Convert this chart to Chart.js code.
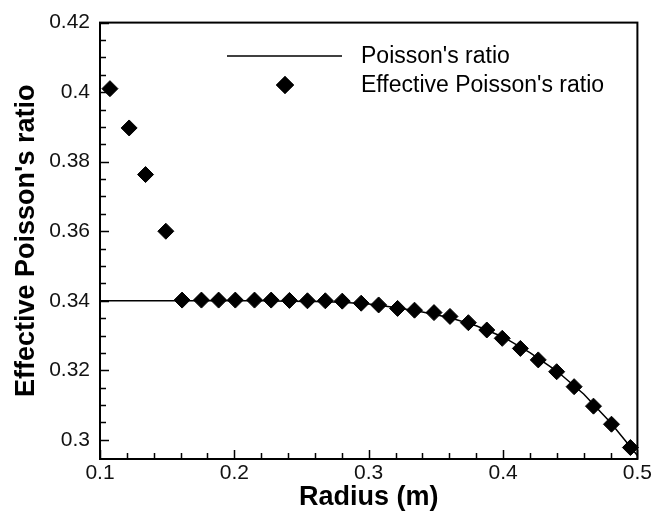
<!DOCTYPE html>
<html>
<head>
<meta charset="utf-8">
<script src="https://cdn.jsdelivr.net/npm/chart.js@4.4.1/dist/chart.umd.min.js"></script>
<style>
    html, body { margin: 0; padding: 0; background: #fff; }
    #wrap { width: 654px; height: 512px; }
</style>
</head>
<body>
<div id="wrap"><canvas id="poissonChart" width="654" height="512"></canvas></div>
<script>
// Effective Poisson's ratio (diamond markers)
const effRadius = [0.1074, 0.1217, 0.1339, 0.1490, 0.1611, 0.1755, 0.1883, 0.2007, 0.2150, 0.2274,
                   0.2410, 0.2544, 0.2677, 0.2803, 0.2944, 0.3074, 0.3215, 0.3341, 0.3486, 0.3605,
                   0.3742, 0.3879, 0.3994, 0.4129, 0.4262, 0.4399, 0.4529, 0.4673, 0.4807, 0.4948];
const effRatio = [0.4010, 0.3897, 0.3763, 0.3600, 0.3402, 0.3402, 0.3402, 0.3402, 0.3402, 0.3402,
                  0.3401, 0.3400, 0.3400, 0.3399, 0.3393, 0.3388, 0.3378, 0.3373, 0.3366, 0.3355,
                  0.3337, 0.3316, 0.3292, 0.3263, 0.3230, 0.3196, 0.3153, 0.3097, 0.3045, 0.2978];

// Poisson's ratio (solid line)
const lineRadius = [0.10, 0.16, 0.20, 0.22, 0.24, 0.26, 0.28, 0.30, 0.32, 0.34,
                    0.36, 0.38, 0.40, 0.42, 0.44, 0.46, 0.48, 0.50];
const lineRatio = [0.3400, 0.3400, 0.3400, 0.3400, 0.3399, 0.3398, 0.3396, 0.3391, 0.3381, 0.3368,
                   0.3352, 0.3328, 0.3296, 0.3251, 0.3198, 0.3132, 0.3050, 0.2955];

// axis ticks
const xMajorTicks = [0.1, 0.2, 0.3, 0.4, 0.5];
const xTickLabels = ['0.1', '0.2', '0.3', '0.4', '0.5'];
const xMinorTicks = [0.12, 0.14, 0.16, 0.18, 0.22, 0.24, 0.26, 0.28, 0.32, 0.34, 0.36, 0.38,
                     0.42, 0.44, 0.46, 0.48];
const yMajorTicks = [0.3, 0.32, 0.34, 0.36, 0.38, 0.4, 0.42];
const yTickLabels = ['0.3', '0.32', '0.34', '0.36', '0.38', '0.4', '0.42'];
const yMinorTicks = [0.305, 0.31, 0.315, 0.325, 0.33, 0.335, 0.345, 0.35, 0.355, 0.365, 0.37, 0.375,
                     0.385, 0.39, 0.395, 0.405, 0.41, 0.415];

const FONT = "'Liberation Sans', Arial, sans-serif";

// frame, inward ticks and the legend
const framePlugin = {
    id: 'frame',
    afterDraw(chart) {
        const ctx = chart.ctx;
        const area = chart.chartArea;
        const xs = chart.scales.x;
        const ys = chart.scales.y;
        ctx.save();
        ctx.strokeStyle = '#000';

        // ticks
        ctx.lineWidth = 1.5;
        ctx.beginPath();
        const tick = (list, len) => {
            list.forEach(v => {
                const px = Math.round(xs.getPixelForValue(v)) + 0.5;
                ctx.moveTo(px, area.bottom);
                ctx.lineTo(px, area.bottom - len);
            });
        };
        const ytick = (list, len) => {
            list.forEach(v => {
                const py = Math.round(ys.getPixelForValue(v)) + 0.5;
                ctx.moveTo(area.left, py);
                ctx.lineTo(area.left + len, py);
            });
        };
        tick(xMajorTicks, 9);
        tick(xMinorTicks, 6);
        ytick(yMajorTicks, 9);
        ytick(yMinorTicks, 6);
        ctx.stroke();

        // frame
        ctx.lineWidth = 2;
        ctx.strokeRect(area.left, area.top, area.right - area.left, area.bottom - area.top);

        // legend
        const lineDs = chart.data.datasets[1];
        const markDs = chart.data.datasets[0];
        ctx.lineWidth = 1.5;
        ctx.beginPath();
        ctx.moveTo(227, 56);
        ctx.lineTo(342, 56);
        ctx.stroke();
        Chart.helpers.drawPoint(ctx, {
            pointStyle: 'rectRot',
            radius: 8,
            borderWidth: 1
        }, 285, 85);
        ctx.fillStyle = '#000';
        ctx.fill();
        ctx.stroke();

        ctx.fillStyle = '#000';
        ctx.font = '23px ' + FONT;
        ctx.textAlign = 'left';
        ctx.textBaseline = 'middle';
        ctx.fillText(lineDs.label, 361, 57);
        ctx.fillText(markDs.label, 361, 86);
        ctx.restore();
    }
};

new Chart(document.getElementById('poissonChart'), {
    type: 'scatter',
    data: {
        datasets: [{
            label: "Effective Poisson's ratio",
            data: effRadius.map((r, i) => ({ x: r, y: effRatio[i] })),
            pointStyle: 'rectRot',
            pointRadius: 8,
            pointHoverRadius: 8,
            backgroundColor: '#000',
            borderColor: '#000',
            borderWidth: 1,
            showLine: false,
            clip: false
        }, {
            label: "Poisson's ratio",
            data: lineRadius.map((r, i) => ({ x: r, y: lineRatio[i] })),
            showLine: true,
            pointRadius: 0,
            borderColor: '#000',
            borderWidth: 1.5,
            tension: 0
        }]
    },
    options: {
        responsive: false,
        animation: false,
        layout: { padding: { top: 22, right: 15, left: 0, bottom: 0 } },
        plugins: {
            legend: { display: false },
            tooltip: { enabled: false }
        },
        scales: {
            x: {
                type: 'linear',
                min: 0.1,
                max: 0.5,
                afterFit(scale) { scale.height = 53; },
                afterBuildTicks(scale) {
                    scale.ticks = xMajorTicks.map(v => ({ value: v }));
                },
                grid: { display: false, drawTicks: false },
                border: { display: false },
                ticks: {
                    padding: 2,
                    color: '#111',
                    maxRotation: 0,
                    font: { family: FONT, size: 21 },
                    callback: (v, i) => xTickLabels[i]
                },
                title: {
                    display: true,
                    text: 'Radius (m)',
                    color: '#000',
                    font: { family: FONT, size: 27, weight: 'bold' },
                    padding: { top: 0, bottom: -2 }
                }
            },
            y: {
                type: 'linear',
                min: 0.2945,
                max: 0.42,
                afterFit(scale) { scale.width = 100; },
                afterBuildTicks(scale) {
                    scale.ticks = yMajorTicks.map(v => ({ value: v }));
                },
                grid: { display: false, drawTicks: false },
                border: { display: false },
                ticks: {
                    padding: 10,
                    color: '#111',
                    font: { family: FONT, size: 21 },
                    callback: (v, i) => yTickLabels[i]
                },
                title: {
                    display: true,
                    text: "Effective Poisson's ratio",
                    color: '#000',
                    font: { family: FONT, size: 27, weight: 'bold' },
                    padding: { top: 10, bottom: 0 }
                }
            }
        }
    },
    plugins: [framePlugin]
});
</script>
</body>
</html>
